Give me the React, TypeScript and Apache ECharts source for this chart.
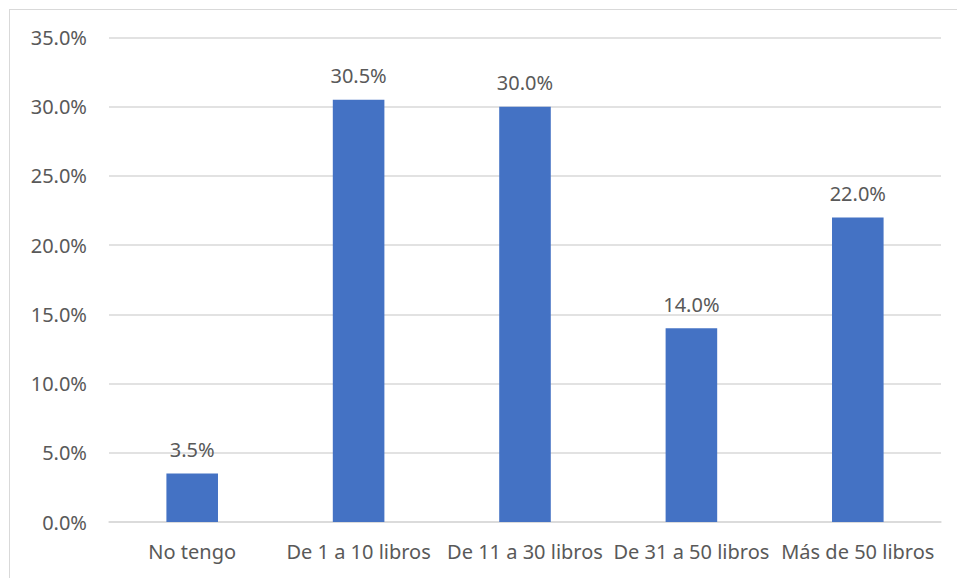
import React, { useEffect, useRef } from "react";
import * as echarts from "echarts";

const categories = ["No tengo", "De 1 a 10 libros", "De 11 a 30 libros", "De 31 a 50 libros", "Más de 50 libros"];
const values = [3.5, 30.5, 30.0, 14.0, 22.0];
const yTicks = { min: 0, max: 35, interval: 5 };

const FONT = "'Noto Sans', 'Open Sans', sans-serif";
const TEXT = "#595959";

export default function App() {
  const ref = useRef<HTMLDivElement>(null);
  useEffect(() => {
    if (!ref.current) return;
    const chart = echarts.init(ref.current, undefined, { renderer: "svg" });
    chart.setOption({
      animation: false,
      backgroundColor: "#ffffff",
      grid: { left: 109, right: 16, top: 37.5, bottom: 56, containLabel: false },
      xAxis: {
        type: "category",
        data: categories,
        axisLine: { show: true, lineStyle: { color: "#d9d9d9", width: 1.5 } },
        axisTick: { show: false },
        axisLabel: {
          interval: 0,
          color: TEXT,
          fontFamily: FONT,
          fontSize: 20,
          margin: 19,
        },
      },
      yAxis: {
        type: "value",
        min: yTicks.min,
        max: yTicks.max,
        interval: yTicks.interval,
        axisLine: { show: false },
        axisTick: { show: false },
        splitLine: { lineStyle: { color: "#d9d9d9", width: 1.5 } },
        axisLabel: {
          color: TEXT,
          fontFamily: FONT,
          fontSize: 20,
          margin: 22,
          formatter: (v: number) => v.toFixed(1) + "%",
        },
      },
      series: [
        {
          type: "bar",
          data: values,
          barWidth: "31%",
          itemStyle: { color: "#4472C4" },
          label: {
            show: true,
            position: "top",
            distance: 14,
            color: TEXT,
            fontFamily: FONT,
            fontSize: 20,
            formatter: (p: any) => Number(p.value).toFixed(1) + "%",
          },
        },
      ],
    });
    return () => chart.dispose();
  }, []);
  return (
    <div style={{ position: "absolute", left: 0, top: 0, width: 957, height: 578, overflow: "hidden", background: "#fff" }}>
      <div ref={ref} style={{ position: "absolute", left: 0, top: 0, width: 957, height: 578 }} />
      <div
        style={{
          position: "absolute",
          left: 9,
          top: 9,
          width: 960,
          height: 580,
          borderTop: "1px solid #d9d9d9",
          borderLeft: "1px solid #d9d9d9",
          pointerEvents: "none",
        }}
      />
    </div>
  );
}
